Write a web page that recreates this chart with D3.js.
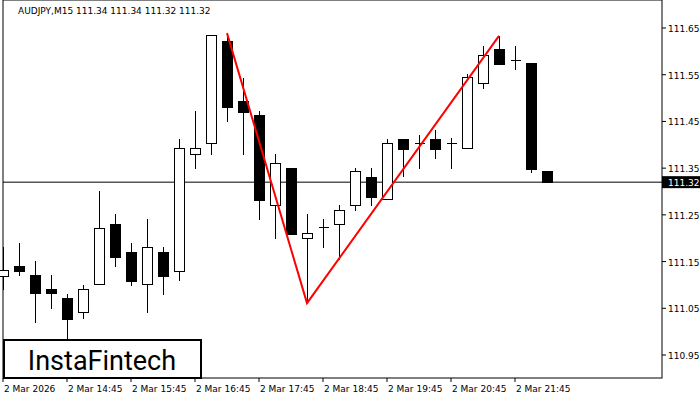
<!DOCTYPE html>
<html><head><meta charset="utf-8">
<script src="https://cdn.jsdelivr.net/npm/d3@7"></script>
<style>body{margin:0;background:#fff}svg{display:block;font-family:"DejaVu Sans",sans-serif}</style>
</head><body><svg id="c" width="700" height="400"></svg>
<script>
// candles, M15
var opens  = [111.119,111.140,111.121,111.091,111.070,111.040,111.100,111.230,111.170,111.100,111.170,111.128,111.380,111.402,111.622,111.492,111.462,111.271,111.350,111.200,111.220,111.230,111.271,111.331,111.282,111.412,111.402,111.412,111.402,111.391,111.532,111.603,111.581,111.573,111.342];
var highs  = [111.181,111.190,111.151,111.121,111.081,111.100,111.301,111.252,111.190,111.241,111.181,111.412,111.472,111.633,111.639,111.543,111.472,111.380,111.350,111.252,111.241,111.271,111.350,111.350,111.412,111.412,111.421,111.432,111.414,111.552,111.611,111.633,111.611,111.573,111.342];
var lows   = [111.089,111.119,111.018,111.048,110.982,111.027,111.100,111.138,111.098,111.040,111.078,111.108,111.348,111.378,111.449,111.378,111.239,111.198,111.209,111.061,111.179,111.153,111.258,111.269,111.282,111.331,111.348,111.370,111.348,111.391,111.519,111.571,111.560,111.340,111.320];
var closes = [111.130,111.128,111.081,111.081,111.027,111.091,111.220,111.158,111.108,111.181,111.119,111.391,111.391,111.633,111.479,111.470,111.280,111.361,111.209,111.211,111.222,111.260,111.342,111.288,111.402,111.389,111.400,111.389,111.401,111.543,111.592,111.571,111.580,111.348,111.320];
var yTicks = [111.65,111.55,111.45,111.35,111.25,111.15,111.05,110.95];
var xLabels = ["2 Mar 2026","2 Mar 14:45","2 Mar 15:45","2 Mar 16:45","2 Mar 17:45","2 Mar 18:45","2 Mar 19:45","2 Mar 20:45","2 Mar 21:45"];
var patternIdx = [14,19,31];
var patternPx = [111.639,111.061,111.633];
var lastPx = 111.32;

var svg = d3.select("#c");
var L = 3, R = 662, T = 0, B = 378;
var x = d3.scaleLinear().domain([0,1]).range([3,19]);
var y = d3.scaleLinear().domain([110.95,111.65]).range([355,28]);

svg.append("rect").attr("x",L).attr("y",T).attr("width",R-L).attr("height",B-T)
  .attr("fill","none").attr("stroke","#000");

// price line
svg.append("line").attr("x1",L).attr("x2",R).attr("y1",y(lastPx)).attr("y2",y(lastPx)).attr("stroke","#000");

var g = svg.append("g").attr("shape-rendering","crispEdges");
opens.forEach(function(o,i){
  var cx = Math.round(x(i))+0.5, c = closes[i];
  g.append("line").attr("x1",cx).attr("x2",cx).attr("y1",y(highs[i])).attr("y2",y(lows[i])).attr("stroke","#000");
  var top = y(Math.max(o,c)), bot = y(Math.min(o,c));
  if (bot-top < 1) {
    g.append("line").attr("x1",cx-5).attr("x2",cx+5).attr("y1",top).attr("y2",top).attr("stroke","#000");
  } else {
    g.append("rect").attr("x",cx-5).attr("y",top).attr("width",10).attr("height",bot-top)
      .attr("fill", c < o ? "#000" : "#fff").attr("stroke","#000");
  }
});

// pattern
svg.append("path").datum(patternIdx.map(function(d,k){return [x(d),y(patternPx[k])];}))
  .attr("d",d3.line()).attr("fill","none").attr("stroke","#ff0000").attr("stroke-width",2);

// y axis
var ya = svg.append("g");
yTicks.forEach(function(t){
  ya.append("line").attr("x1",R).attr("x2",R+4).attr("y1",y(t)).attr("y2",y(t)).attr("stroke","#000");
  ya.append("text").attr("x",R+6).attr("y",y(t)+4).attr("font-size",9).text(t.toFixed(2));
});
svg.append("rect").attr("x",R).attr("y",y(lastPx)-6).attr("width",38).attr("height",12).attr("fill","#000");
svg.append("text").attr("x",R+6).attr("y",y(lastPx)+4).attr("font-size",9).attr("fill","#fff").text(lastPx.toFixed(2));

// x axis
xLabels.forEach(function(s,k){
  var xi = x(k*4);
  svg.append("line").attr("x1",xi).attr("x2",xi).attr("y1",B).attr("y2",B+4).attr("stroke","#000");
  svg.append("text").attr("x",xi+1).attr("y",B+14).attr("font-size",9).text(s);
});

svg.append("text").attr("x",18).attr("y",14).attr("font-size",9).text("AUDJPY,M15  111.34 111.34 111.32 111.32");

// logo
svg.append("rect").attr("x",4).attr("y",340).attr("width",197).attr("height",38).attr("fill","#fff").attr("stroke","#000").attr("stroke-width",2);
svg.append("text").attr("x",102).attr("y",370).attr("text-anchor","middle").attr("font-size",27)
  .attr("font-family","Roboto, sans-serif").text("InstaFintech");
</script></body></html>
